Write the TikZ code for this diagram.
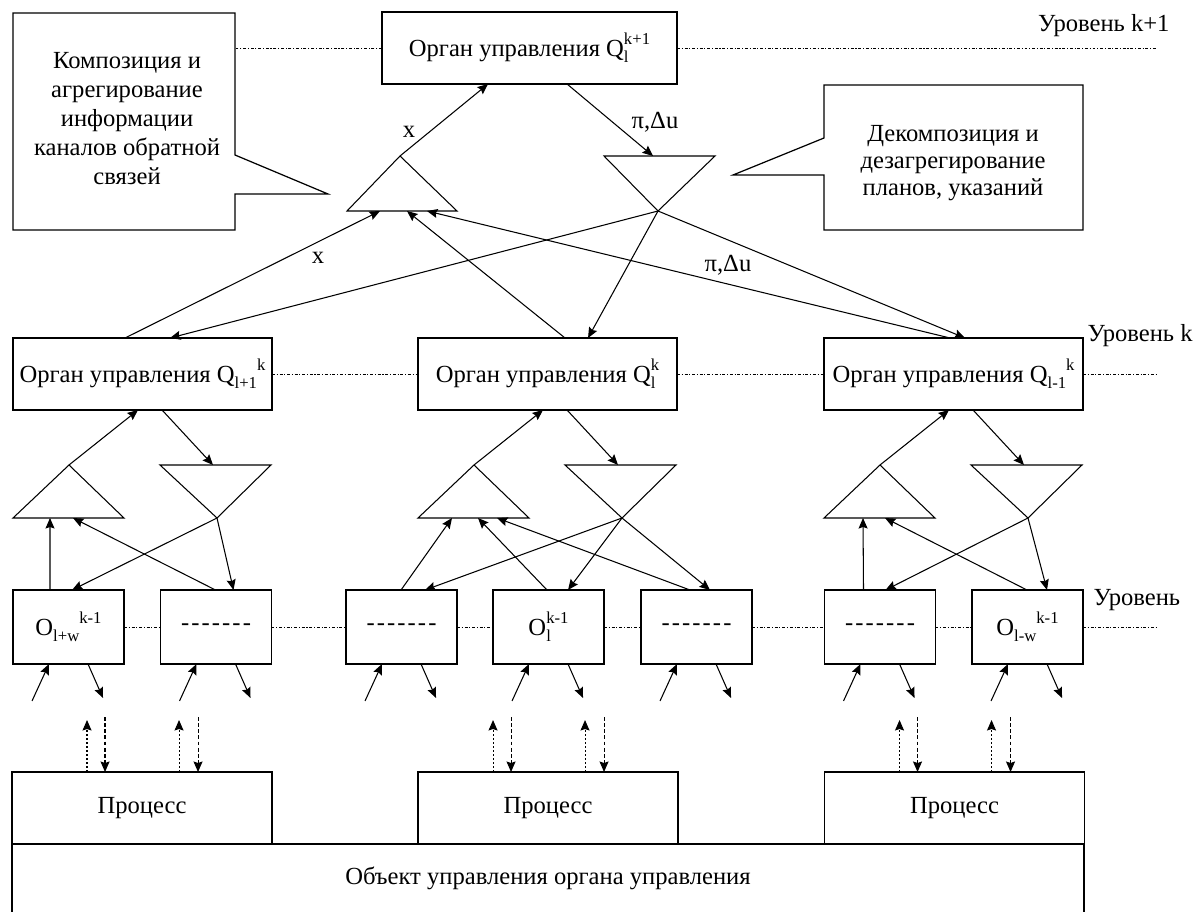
\documentclass[tikz,border=0pt]{standalone}
\usepackage{fontspec}
\setmainfont{Liberation Serif}
\usetikzlibrary{arrows.meta,calc}
\newcommand{\smallidx}[1]{{\fontsize{9.5pt}{9.5pt}\selectfont #1}}
\newcommand{\qstack}[3]{#1\rlap{\raisebox{-0.55ex}{\smallidx{#2}}}\raisebox{1.05ex}{\smallidx{#3}}}
\newcommand{\qseq}[3]{#1\raisebox{-0.55ex}{\smallidx{#2}}\raisebox{1.05ex}{\smallidx{#3}}}
\newcommand{\mydashes}{-\kern1.2pt-\kern1.2pt-\kern1.2pt-\kern1.2pt-\kern1.2pt-\kern1.2pt-}
\begin{document}
\begin{tikzpicture}[x=0.02cm,y=-0.02cm,
  font=\fontsize{14pt}{16.5pt}\selectfont,
  line width=0.6pt,
  >={Stealth[length=0.21cm,width=0.18cm,inset=0.03cm]},
  box/.style={draw,line width=0.7pt,inner sep=0pt,outer sep=0pt,minimum height=1.44cm,align=center},
  lbox/.style={box,minimum width=5.18cm},
  sbox/.style={box,minimum width=2.22cm,minimum height=1.48cm},
  pbox/.style={box,minimum width=5.2cm},
  tri/.style={draw,line width=0.6pt,line join=miter},
  lvl/.style={line width=0.5pt,dash pattern=on 1.7pt off 1pt on 0.6pt off 1pt},
  fb/.style={->,dash pattern=on 1pt off 1.3pt},
  cmd/.style={->,dash pattern=on 2.2pt off 1.3pt},
  lab/.style={inner sep=0pt},
]
\useasboundingbox (0,0) rectangle (1197,912);

% callouts
\draw[line width=0.7pt] (13,13) -- (235,13) -- (235,155) -- (328,194) -- (235,194) -- (235,230) -- (13,230) -- cycle;
\node[lab,align=center] (c1) at (127,119) {Композиция и\\агрегирование\\информации\\каналов обратной\\связей};
\draw[line width=0.7pt] (824,85) -- (1083,85) -- (1083,230) -- (824,230) -- (824,175) -- (733,175) -- (824,138) -- cycle;
\node[lab,align=center,font=\fontsize{14pt}{15.2pt}\selectfont] (c2) at (953,163) {Декомпозиция и\\дезагрегирование\\планов, указаний};

% top box
\node[box,minimum width=5.9cm] (T) at (529.5,48) {Орган управления \qstack{Q}{l}{k+1}};
% level k boxes
\node[lbox] (L) at (142.5,374) {Орган управления \qseq{Q}{l+1}{k}};
\node[lbox] (M) at (547.5,374) {Орган управления \qstack{Q}{l}{k}};
\node[lbox] (R) at (953.5,374) {Орган управления \qseq{Q}{l-1}{k}};
% level k-1 boxes
\node[sbox] (B1) at (68.5,627) {\qseq{O}{l+w}{k-1}};
\node[sbox] (B2) at (216,627) {\mydashes};
\node[sbox] (B3) at (401.5,627) {\mydashes};
\node[sbox] (B4) at (548.5,627) {\qstack{O}{l}{k-1}};
\node[sbox] (B5) at (696.5,627) {\mydashes};
\node[sbox] (B6) at (880,627) {\mydashes};
\node[sbox] (B7) at (1027.5,627) {\qseq{O}{l-w}{k-1}};
% processes
\node[pbox] (P1) at (142,808) {Процесс};
\node[pbox] (P2) at (548,808) {Процесс};
\node[pbox] (P3) at (954.5,808) {Процесс};
\node[draw,line width=0.7pt,inner sep=0pt,outer sep=0pt,minimum width=21.44cm,minimum height=2cm,anchor=north] (OB) at (548,844) {};
\node[lab] (obtext) at (548,878) {Объект управления органа управления};

% level labels and lines
\node[lab,anchor=east] (lv1) at (1170,26) {Уровень k+1};
\node[lab,anchor=west] (lv2) at (1087,336) {Уровень k};
\node[lab,anchor=west] (lv3) at (1093,600) {Уровень};
\draw[lvl] (T.west) -- ++(-146,0);
\draw[lvl] (T.east) -- ++(480,0);
\draw[lvl] (L.east) -- (M.west);
\draw[lvl] (M.east) -- (R.west);
\draw[lvl] (R.east) -- ++(74,0);
\draw[lvl] (B1.east) -- (B2.west);
\draw[lvl] (B2.east) -- (B3.west);
\draw[lvl] (B3.east) -- (B4.west);
\draw[lvl] (B4.east) -- (B5.west);
\draw[lvl] (B5.east) -- (B6.west);
\draw[lvl] (B6.east) -- (B7.west);
\draw[lvl] (B7.east) -- ++(74,0);

% top triangles
\coordinate (taA) at (400,156); \coordinate (taL) at (347,211); \coordinate (taR) at (457,211);
\coordinate (tdL) at (604,156); \coordinate (tdR) at (715,156); \coordinate (tdA) at (658,211);
\draw[tri] (taA) -- (taL) -- (taR) -- cycle;
\draw[tri] (tdL) -- (tdR) -- (tdA) -- cycle;

\draw[->] (taA) -- ($(T.south west)+(106,0)$);
\draw[->] ($(T.south west)+(185,0)$) -- ($(tdL)+(49,0)$);
\draw[->] ($(L.north west)+(112,0)$) -- ($(taL)+(33,0)$);
\draw[->] (tdA) -- ($(L.north west)+(157,0)$);
\draw[->] ($(M.north west)+(147,0)$) -- ($(taL)+(60,0)$);
\draw[->] (tdA) -- ($(M.north west)+(170,0)$);
\draw[->] ($(R.north west)+(126,0)$) -- ($(taL)+(80,0)$);
\draw[->] (tdA) -- ($(R.north west)+(141,0)$);
\node[lab] (lx1) at (409,132) {x};
\node[lab] (lp1) at (655,122) {π,Δu};
\node[lab] (lx2) at (318,258) {x};
\node[lab] (lp2) at (728,265) {π,Δu};

% lower triangles
\foreach \g/\x in {L/13,M/418,R/824}{
  \coordinate (uaA\g) at (\x+56,465);
  \coordinate (uaL\g) at (\x,518);
  \coordinate (uaR\g) at (\x+111,518);
  \coordinate (udL\g) at (\x+147,465);
  \coordinate (udR\g) at (\x+258,465);
  \coordinate (udA\g) at (\x+204,518);
  \draw[tri] (uaA\g) -- (uaL\g) -- (uaR\g) -- cycle;
  \draw[tri] (udL\g) -- (udR\g) -- (udA\g) -- cycle;
  \draw[->] (uaA\g) -- ($(\g.south west)+(125,0)$);
  \draw[->] ($(\g.south west)+(149,0)$) -- ($(udL\g)+(53,0)$);
}
% left group
\draw[->] ($(B1.north west)+(37,0)$) -- ($(uaLL)+(37,0)$);
\draw[->] ($(B2.north west)+(55,0)$) -- ($(uaLL)+(60,0)$);
\draw[->] (udAL) -- ($(B1.north west)+(59,0)$);
\draw[->] (udAL) -- ($(B2.north west)+(73,0)$);
% middle group
\draw[->] ($(B3.north west)+(55,0)$) -- ($(uaLM)+(34,0)$);
\draw[->] ($(B4.north west)+(54,0)$) -- ($(uaLM)+(60,0)$);
\draw[->] ($(B5.north west)+(49,0)$) -- ($(uaLM)+(79,0)$);
\draw[->] (udAM) -- ($(B3.north west)+(79,0)$);
\draw[->] (udAM) -- ($(B4.north west)+(75,0)$);
\draw[->] (udAM) -- ($(B5.north west)+(69,0)$);
% right group
\draw[->] ($(B6.north west)+(39,0)$) -- ($(uaLR)+(39,0)$);
\draw[->] ($(B7.north west)+(55,0)$) -- ($(uaLR)+(61,0)$);
\draw[->] (udAR) -- ($(B6.north west)+(61,0)$);
\draw[->] (udAR) -- ($(B7.north west)+(75,0)$);

% short arrows below k-1 boxes
\foreach \b in {B1,B2,B3,B4,B5,B6,B7}{
  \draw[->] ($(\b.south west)+(19,37)$) -- ($(\b.south west)+(36,0)$);
  \draw[->] ($(\b.south west)+(75,0)$) -- ($(\b.south west)+(90,34)$);
}
% dotted pairs above processes
\foreach \p in {P1,P2,P3}{
  \draw[fb] ($(\p.north west)+(75,0)$) -- ($(\p.north west)+(75,-52)$);
  \draw[cmd] ($(\p.north west)+(93,-55)$) -- ($(\p.north west)+(93,0)$);
  \draw[fb] ($(\p.north west)+(167,0)$) -- ($(\p.north west)+(167,-52)$);
  \draw[cmd] ($(\p.north west)+(186,-55)$) -- ($(\p.north west)+(186,0)$);
}
\end{tikzpicture}
\end{document}
